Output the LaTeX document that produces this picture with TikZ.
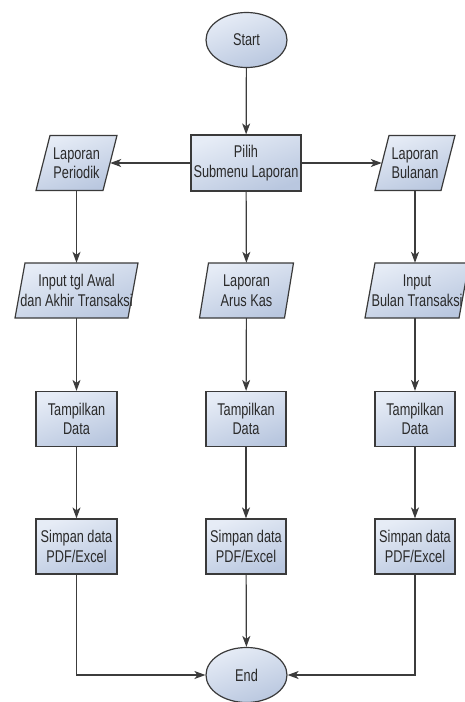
\documentclass[tikz,border=0pt]{standalone}
\usepackage{fontspec}
\setmainfont{Liberation Sans}[FakeStretch=0.75]
\usetikzlibrary{shapes.geometric,arrows.meta}
\definecolor{edgec}{HTML}{3A3A3A}
\definecolor{lineC}{HTML}{3C3C3C}
\definecolor{txtc}{HTML}{2A2A2A}
\definecolor{fillTop}{HTML}{E6ECF6}
\definecolor{fillBot}{HTML}{B9C7DF}
\tikzset{
  shadefill/.style={draw=edgec, line width=1.2pt, top color=fillTop, bottom color=fillBot, shading angle=20},
  txt/.style={font=\fontsize{17}{19.5}\selectfont, text=txtc, align=center, inner sep=0pt},
  procbox/.style={shadefill, txt, rectangle, minimum width=81pt, minimum height=55pt},
  termbox/.style={shadefill, txt, ellipse, minimum width=81pt, minimum height=55pt},
  iotext/.style={txt, rectangle, minimum height=55pt},
  conn/.style={draw=lineC, line width=1.2pt, -{Stealth[length=11pt,width=8pt,inset=3pt]}},
  plain/.style={draw=lineC, line width=1.2pt}
}
% #1 name, #2 x, #3 y, #4 mid width, #5 slant, #6 text
\newcommand\paranode[6]{%
  \path[shadefill] ({#2-#4/2+#5/2},{#3-27.5}) -- ++(#4,0) -- ++(-#5,55) -- ++(-#4,0) -- cycle;
  \node[iotext, minimum width=#4 pt] (#1) at (#2,#3) {#6};}
\begin{document}
\begin{tikzpicture}[x=1pt,y=-1pt]
\useasboundingbox (0,0) rectangle (464,702);
\node[termbox] (start) at (246.5,40) {Start};
\node[procbox, minimum width=110pt, minimum height=56pt] (pilih) at (246,163) {Pilih\\Submenu Laporan};
\paranode{per}{76.5}{163}{67}{14}{Laporan\\Periodik}
\paranode{bul}{415}{163}{66}{14}{Laporan\\Bulanan}
\paranode{inawal}{76.5}{290.5}{113}{10}{Input tgl Awal\\dan Akhir Transaksi}
\paranode{arus}{246.5}{290.5}{85}{9}{Laporan\\Arus Kas}
\paranode{inbul}{417}{290.5}{94}{10}{Input\\Bulan Transaksi}
\node[procbox] (tam1) at (76.5,419) {Tampilkan\\Data};
\node[procbox, minimum width=80pt] (tam2) at (246,419) {Tampilkan\\Data};
\node[procbox, minimum width=80pt] (tam3) at (415,419) {Tampilkan\\Data};
\node[procbox] (sim1) at (76.5,546.5) {Simpan data\\PDF/Excel};
\node[procbox, minimum width=80pt] (sim2) at (246,546.5) {Simpan data\\PDF/Excel};
\node[procbox, minimum width=80pt] (sim3) at (415,546.5) {Simpan data\\PDF/Excel};
\node[termbox] (end) at (246.5,675) {End};

\draw[conn] (start) -- (pilih);
\draw[conn] (pilih) -- (per);
\draw[conn] (pilih) -- (bul);
\draw[conn] (pilih) -- (arus);
\draw[conn] (per) -- (inawal);
\draw[conn] (bul.south) -- (bul.south |- inbul.north);
\draw[conn] (inawal) -- (tam1);
\draw[conn] (arus) -- (tam2);
\draw[conn] (inbul.south -| tam3) -- (tam3);
\draw[conn] (tam1) -- (sim1);
\draw[conn] (tam2) -- (sim2);
\draw[conn] (tam3) -- (sim3);
\draw[conn] (sim2) -- (end);
\draw[conn] (sim1.south) |- (end.west);
\draw[conn] (sim3.south) |- (end.east);
\end{tikzpicture}
\end{document}
